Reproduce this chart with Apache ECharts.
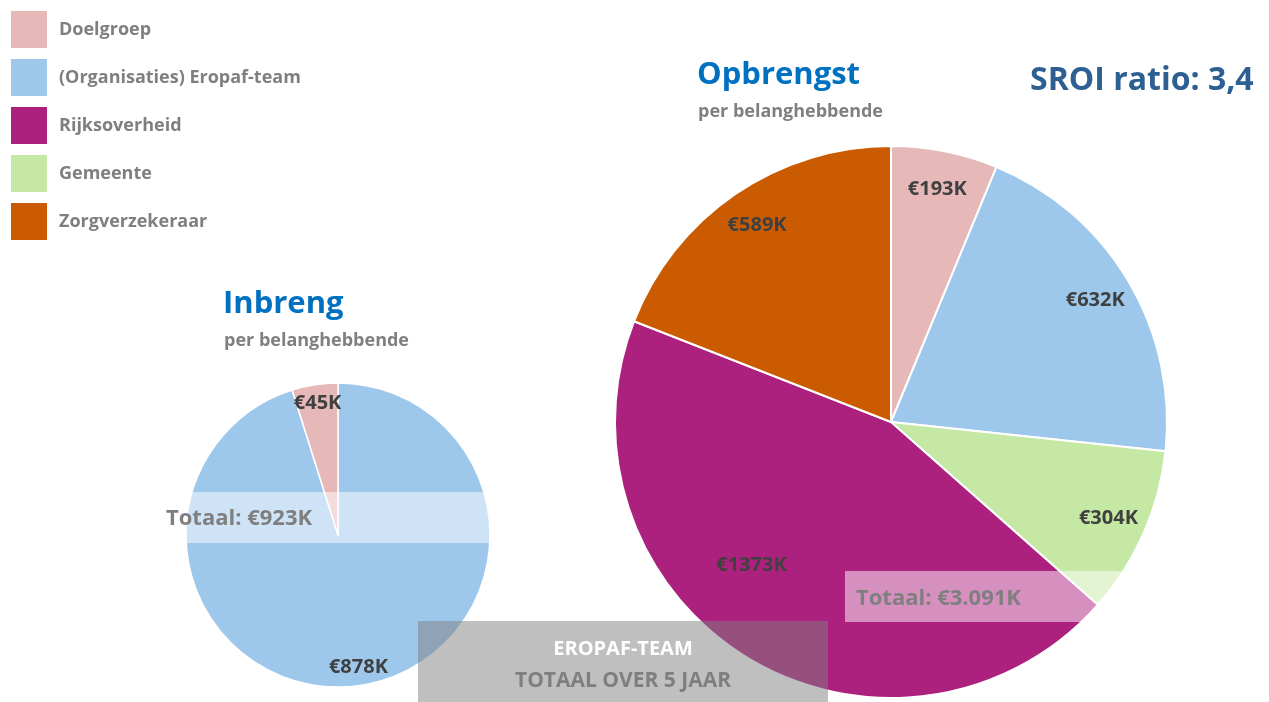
<!DOCTYPE html>
<html>
<head>
<meta charset="utf-8">
<script src="https://cdn.jsdelivr.net/npm/echarts@6/dist/echarts.min.js"></script>
<style>
  html, body { margin: 0; padding: 0; background: #fff; }
  #chart { width: 1269px; height: 702px; }
</style>
</head>
<body>
<div id="chart"></div>
<script>
// categorieën + kleuren (legend volgorde)
const categories = ['Doelgroep', '(Organisaties) Eropaf-team', 'Rijksoverheid', 'Gemeente', 'Zorgverzekeraar']
const categoryColors = ['#e6b8b7', '#9dc8ec', '#ad217e', '#c5e8a4', '#ca5b00']

// Inbreng (x €1000), met de klok mee vanaf boven
const inbrengNames = ['(Organisaties) Eropaf-team', 'Doelgroep']
const inbrengValues = [878, 45]

// Opbrengst (x €1000), met de klok mee vanaf boven
const opbrengstNames = ['Doelgroep', '(Organisaties) Eropaf-team', 'Gemeente', 'Rijksoverheid', 'Zorgverzekeraar']
const opbrengstValues = [193, 632, 304, 1373, 589]

const font = '"Open Sans", Lato, sans-serif'
const colorOf = name => categoryColors[categories.indexOf(name)]

function pieData(names, values) {
  return names.map((name, i) => ({ name, value: values[i], itemStyle: { color: colorOf(name) } }))
}

const leftCenter = [338, 535]
const leftR = 152
const rightCenter = [891, 422]
const rightR = 276

const labelStyle = {
  show: true,
  position: 'inside',
  formatter: p => '€' + p.value + 'K',
  color: '#404040',
  fontFamily: font,
  fontWeight: 'bold',
  fontSize: 20,
}

const chart = echarts.init(document.getElementById('chart'))

chart.setOption({
  animation: false,
  legend: {
    data: categories,
    orient: 'vertical',
    left: 11,
    top: 11,
    padding: 0,
    itemWidth: 36,
    itemHeight: 37,
    itemGap: 11,
    icon: 'rect',
    selectedMode: false,
    itemStyle: { borderWidth: 0 },
    textStyle: { color: '#7f7f7f', fontFamily: font, fontWeight: 'bold', fontSize: 18, padding: [8, 0, 0, 7] },
  },
  series: [
    {
      type: 'pie',
      center: leftCenter,
      radius: [0, leftR],
      startAngle: 90,
      clockwise: true,
      silent: true,
      label: { show: false },
      labelLine: { show: false },
      itemStyle: { borderColor: '#fff', borderWidth: 1.5 },
      data: pieData(inbrengNames, inbrengValues),
    },
    {
      type: 'pie',
      center: rightCenter,
      radius: [0, rightR],
      startAngle: 90,
      clockwise: true,
      silent: true,
      labelLine: { show: false },
      itemStyle: { borderColor: '#fff', borderWidth: 2 },
      // alleen het grote label (Rijksoverheid) staat dichter bij het midden
      label: { ...labelStyle, show: false },
      labelLayout: p => (p.dataIndex === 3 ? { dx: -66, dy: 23 } : {}),
      data: pieData(opbrengstNames, opbrengstValues).map((d, i) =>
        i === 3 ? { ...d, label: { show: true } } : d
      ),
    },
    // onzichtbare ringen om labels naar de buitenrand te schuiven
    {
      type: 'pie',
      center: leftCenter,
      radius: [leftR * 0.72, leftR],
      startAngle: 90,
      silent: true,
      label: labelStyle,
      labelLine: { show: false },
      itemStyle: { color: 'rgba(0,0,0,0)' },
      data: inbrengNames.map((name, i) => ({ name, value: inbrengValues[i] })),
    },
    {
      type: 'pie',
      center: rightCenter,
      radius: [rightR * 0.7, rightR],
      startAngle: 90,
      silent: true,
      label: labelStyle,
      labelLine: { show: false },
      itemStyle: { color: 'rgba(0,0,0,0)' },
      data: opbrengstNames.map((name, i) => ({
        name,
        value: opbrengstValues[i],
        label: { show: i !== 3 },
      })),
    },
  ],
  graphic: [
    // titels
    { type: 'text', left: 223, top: 289, z: 100, style: { text: 'Inbreng', fill: '#0070c0', font: 'bold 31px ' + font } },
    { type: 'text', left: 224, top: 332, z: 100, style: { text: 'per belanghebbende', fill: '#7f7f7f', font: 'bold 18px ' + font } },
    { type: 'text', left: 697, top: 60, z: 100, style: { text: 'Opbrengst', fill: '#0070c0', font: 'bold 31px ' + font } },
    { type: 'text', left: 698, top: 103, z: 100, style: { text: 'per belanghebbende', fill: '#7f7f7f', font: 'bold 18px ' + font } },
    { type: 'text', left: 1030, top: 65, z: 100, style: { text: 'SROI ratio: 3,4', fill: '#2e5f93', font: 'bold 32px ' + font } },

    // totaal-balken
    { type: 'rect', z: 100, shape: { x: 150, y: 492, width: 345, height: 51 }, style: { fill: 'rgba(255,255,255,0.5)' } },
    { type: 'text', left: 166, top: 508, z: 101, style: { text: 'Totaal: €923K', fill: '#7f7f7f', font: 'bold 22px ' + font } },
    { type: 'rect', z: 100, shape: { x: 845, y: 571, width: 320, height: 51 }, style: { fill: 'rgba(255,255,255,0.5)' } },
    { type: 'text', left: 856, top: 588, z: 101, style: { text: 'Totaal: €3.091K', fill: '#7f7f7f', font: 'bold 22px ' + font } },

    // grijs kader onderaan
    { type: 'rect', z: 100, shape: { x: 418, y: 621, width: 410, height: 81 }, style: { fill: 'rgba(127,127,127,0.5)' } },
    { type: 'text', x: 623, y: 649, z: 101, style: { text: 'EROPAF-TEAM', fill: '#fff', font: 'bold 20px ' + font, textAlign: 'center', textVerticalAlign: 'middle' } },
    { type: 'text', x: 623, y: 681, z: 101, style: { text: 'TOTAAL OVER 5 JAAR', fill: '#7f7f7f', font: 'bold 21px ' + font, textAlign: 'center', textVerticalAlign: 'middle' } },
  ],
})
</script>
</body>
</html>
